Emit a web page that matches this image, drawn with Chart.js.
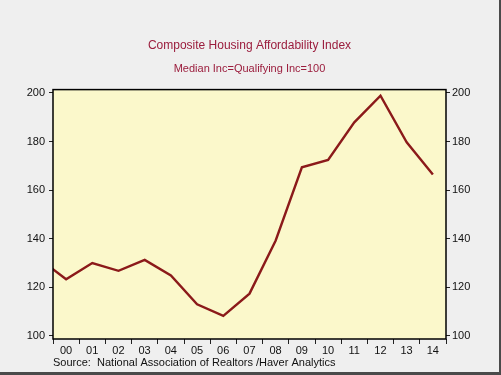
<!DOCTYPE html>
<html>
<head>
<meta charset="utf-8">
<script src="https://cdn.jsdelivr.net/npm/chart.js@4/dist/chart.umd.min.js"></script>
<style>
  body { margin: 0; background: #efefef; }
  .wrap { position: relative; width: 499px; height: 372px; border-right: 2px solid #4a4a4a; border-bottom: 3px solid #4a4a4a; }
</style>
</head>
<body>
<div class="wrap"><canvas id="hai"></canvas></div>
<script>
// annual values, plotted mid-year; '99 only feeds the clipped segment at the left edge
const years = ['99', '00', '01', '02', '03', '04', '05', '06', '07', '08', '09', '10', '11', '12', '13', '14'];
const haiValues = [131.5, 123.2, 129.9, 126.7, 131.2, 124.8, 112.9, 108.1, 117.3, 139.2, 169.4, 172.4, 187.9, 198.9, 179.7, 166.4];
const yTicks = [100, 120, 140, 160, 180, 200];

const FONT = '"Liberation Sans", Arial, sans-serif';
const maroon = '#8b1a1a';
const titleRed = '#9b1d3d';

// x: year index, 0 = start of 2000
const points = haiValues.map((v, i) => ({ x: i - 0.5, y: v }));

const fixTicks = scale => { scale.ticks = yTicks.map(v => ({ value: v })); };

// yellow plot background + black frame
const plotFrame = {
  id: 'plotFrame',
  beforeDraw(chart) {
    const a = chart.chartArea, ctx = chart.ctx;
    ctx.save();
    ctx.fillStyle = '#fbf8cb';
    ctx.fillRect(a.left, a.top, a.right - a.left, a.bottom - a.top);
    ctx.restore();
  },
  afterDraw(chart) {
    const a = chart.chartArea, ctx = chart.ctx;
    ctx.save();
    ctx.strokeStyle = '#000';
    ctx.lineWidth = 1.5;
    ctx.strokeRect(a.left, a.top, a.right - a.left, a.bottom - a.top);
    ctx.restore();
  }
};

const chartHai = new Chart(document.getElementById('hai'), {
  type: 'line',
  data: {
    datasets: [{
      data: points,
      borderColor: maroon,
      borderWidth: 2.4,
      pointRadius: 0,
      tension: 0,
      clip: 0
    }]
  },
  options: {
    responsive: true,
    maintainAspectRatio: false,
    animation: false,
    layout: { padding: 0 },
    plugins: {
      legend: { display: false },
      tooltip: { enabled: false },
      title: {
        display: true,
        text: 'Composite Housing Affordability Index',
        color: titleRed,
        font: { family: FONT, size: 12, weight: 'normal' },
        padding: { top: 38, bottom: 10 }
      },
      subtitle: {
        display: true,
        text: 'Median Inc=Qualifying Inc=100',
        color: titleRed,
        font: { family: FONT, size: 11, weight: 'normal' },
        padding: { top: 0, bottom: 14 }
      }
    },
    scales: {
      x: {
        type: 'linear',
        min: 0,
        max: 15,
        border: { display: false },
        grid: { drawOnChartArea: false, tickLength: 5, color: '#222' },
        ticks: {
          stepSize: 1,
          autoSkip: false,
          maxRotation: 0,
          labelOffset: 13,
          padding: 0,
          color: '#111',
          font: { family: FONT, size: 11 },
          callback: v => (v < 15 ? years[v + 1] : '')
        },
        title: {
          display: true,
          align: 'start',
          text: 'Source:  National Association of Realtors /Haver Analytics',
          color: '#111',
          font: { family: FONT, size: 11 },
          padding: { top: 0, bottom: 2 }
        },
        afterFit: s => { s.height = 33; }
      },
      y: {
        position: 'left',
        min: 98.6,
        max: 201.4,
        border: { display: false },
        grid: { drawOnChartArea: false, tickLength: 4, color: '#222' },
        ticks: { padding: 4, color: '#111', font: { family: FONT, size: 11 } },
        afterBuildTicks: fixTicks,
        afterFit: s => { s.width = 53; }
      },
      y2: {
        position: 'right',
        min: 98.6,
        max: 201.4,
        border: { display: false },
        grid: { drawOnChartArea: false, tickLength: 4, color: '#222' },
        ticks: { padding: 2, color: '#111', font: { family: FONT, size: 11 } },
        afterBuildTicks: fixTicks,
        afterFit: s => { s.width = 53; }
      }
    }
  },
  plugins: [plotFrame]
});
</script>
</body>
</html>
